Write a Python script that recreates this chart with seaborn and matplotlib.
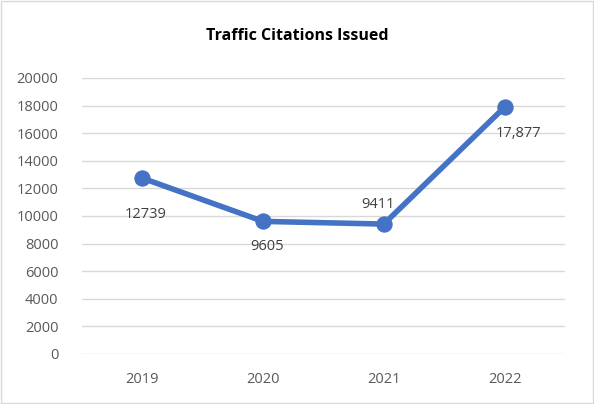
import matplotlib
matplotlib.use("Agg")
import matplotlib.pyplot as plt
import seaborn as sns
import pandas as pd

years = ["2019", "2020", "2021", "2022"]
citations = [12739, 9605, 9411, 17877]
point_labels = ["12739", "9605", "9411", "17,877"]
yticks = list(range(0, 20001, 2000))

df = pd.DataFrame({"year": years, "citations": citations})

sns.set_style("white")
plt.rcParams['font.family'] = ['Open Sans', 'DejaVu Sans']

fig = plt.figure(figsize=(5.94, 4.04), dpi=100)
ax = fig.add_axes([0.138, 0.124, 0.813, 0.683])

blue = "#4472C4"
sns.lineplot(data=df, x="year", y="citations", ax=ax, color=blue, linewidth=4,
             marker="o", markersize=11, markeredgecolor=blue, sort=False)

ax.set_xlim(-0.5, 3.5)
ax.set_ylim(0, 20000)
ax.set_yticks(yticks)
ax.set_yticklabels([str(t) for t in yticks])
ax.grid(axis="y", color="#D9D9D9", linewidth=1)
ax.set_axisbelow(True)
for s in ax.spines.values():
    s.set_visible(False)
ax.tick_params(axis="both", length=0, labelsize=10.5, labelcolor="#595959")
ax.tick_params(axis="x", pad=13)
ax.tick_params(axis="y", pad=17)
ax.set_xlabel("")
ax.set_ylabel("")

# data labels (Excel placed them by hand)
offsets = [(2, -26), (3, -18), (-4, 14), (10, -19)]
for i, (v, lab) in enumerate(zip(citations, point_labels)):
    ax.annotate(lab, (i, v), xytext=offsets[i], textcoords="offset points",
                ha="center", va="center", fontsize=10.5, color="#404040")

fig.text(0.50, 0.91, "Traffic Citations Issued", ha="center", va="center",
         fontsize=11.5, fontweight="bold", color="black")

# chart border
fig.patches.append(plt.Rectangle((0.002, 0.002), 0.996, 0.996, transform=fig.transFigure,
                                 fill=False, edgecolor="#D9D9D9", linewidth=1))

fig.savefig("out.png", dpi=100)
